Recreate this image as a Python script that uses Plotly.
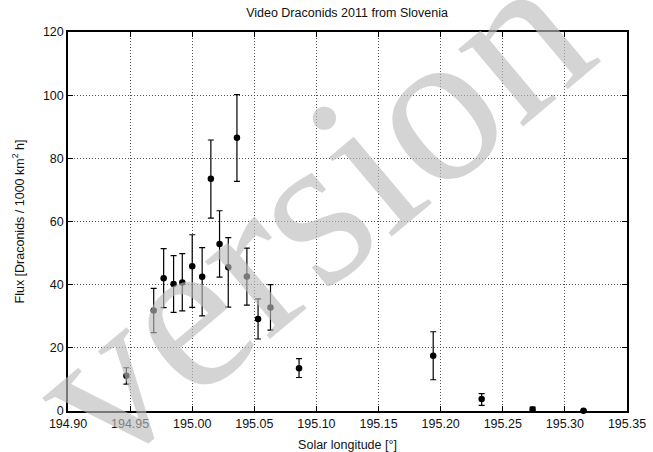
import plotly.graph_objects as go

# Data
sol_long = [194.947, 194.969, 194.977, 194.985, 194.992, 195.000, 195.008, 195.015,
            195.022, 195.029, 195.036, 195.044, 195.053, 195.063, 195.086, 195.194,
            195.233, 195.274, 195.315]
flux = [11.2, 31.8, 42.0, 40.2, 40.7, 45.8, 42.5, 73.5,
        52.9, 45.5, 86.5, 42.6, 29.1, 32.8, 13.5, 17.5,
        3.8, 0.5, 0.1]
err_hi = [13.7, 38.8, 51.4, 49.2, 49.8, 55.8, 51.7, 85.8,
          63.4, 54.9, 100.2, 51.6, 35.5, 40.0, 16.6, 25.1,
          5.5, 1.2, 0.3]
err_lo = [8.5, 24.8, 32.7, 31.2, 31.7, 32.8, 30.1, 61.1,
          42.4, 32.9, 72.7, 33.5, 22.8, 25.6, 10.6, 9.9,
          1.8, 0.0, 0.0]

plus = [h - f for h, f in zip(err_hi, flux)]
minus = [f - l for f, l in zip(flux, err_lo)]

x_ticks = [194.90, 194.95, 195.00, 195.05, 195.10, 195.15, 195.20, 195.25, 195.30, 195.35]
y_ticks = [0, 20, 40, 60, 80, 100, 120]

FONT = "Liberation Sans, Arial, sans-serif"
FS = 12.5

fig = go.Figure()
fig.add_trace(go.Scatter(
    x=sol_long, y=flux, mode="markers",
    marker=dict(color="black", size=6.5),
    error_y=dict(type="data", symmetric=False, array=plus, arrayminus=minus,
                 color="black", thickness=1.2, width=3),
    showlegend=False, cliponaxis=False,
))

axis_common = dict(
    showline=True, linecolor="black", linewidth=1.5, mirror="allticks",
    ticks="inside", ticklen=5, tickcolor="black", tickwidth=1,
    showgrid=True, gridcolor="#555", gridwidth=1, griddash="1px,2px",
    zeroline=False, automargin=False,
    tickfont=dict(family=FONT, size=FS, color="#111"),
)

fig.update_layout(
    width=653, height=452,
    margin=dict(l=68, r=26, t=32, b=41, autoexpand=False),
    plot_bgcolor="white", paper_bgcolor="white",
    title=dict(text="Video Draconids 2011 from Slovenia", x=347 / 653, xanchor="center",
               y=1 - 13 / 452, yanchor="middle",
               font=dict(family=FONT, size=FS, color="#111")),
    xaxis=dict(range=[194.90, 195.35], tickvals=x_ticks, tickformat=".2f",
               title=dict(text="Solar longitude [°]", standoff=11,
                          font=dict(family=FONT, size=FS, color="#111")),
               **axis_common),
    yaxis=dict(range=[0, 120], tickvals=y_ticks,
               title=dict(text="Flux [Draconids / 1000 km<sup>2</sup> h]", standoff=16,
                          font=dict(family=FONT, size=FS, color="#111")),
               **axis_common),
    annotations=[dict(
        text="version", xref="paper", yref="paper", x=0.43, y=0.53,
        showarrow=False, textangle=-40,
        font=dict(family="Liberation Serif, serif", size=220,
                  color="rgba(187,187,187,0.64)"),
    )],
)

fig.write_html("out.html", config={"displayModeBar": False},
               post_script="document.body.style.margin='0';")
